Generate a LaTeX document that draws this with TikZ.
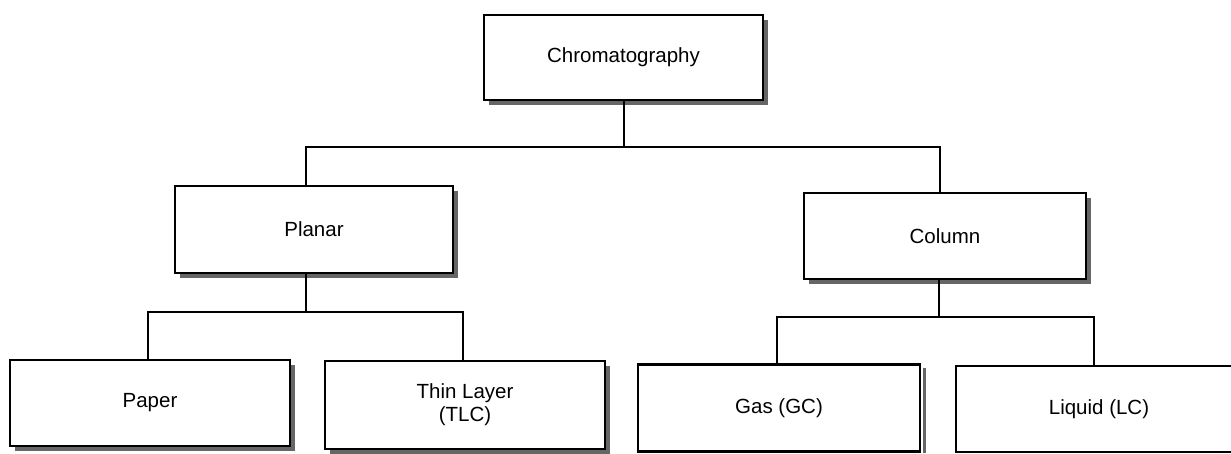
\documentclass[tikz,border=0pt]{standalone}
\usepackage{fontspec}
\setmainfont{Liberation Sans}
\usetikzlibrary{shadows}
\begin{document}
\begin{tikzpicture}[x=1pt,y=-1pt,
  catbox/.style={draw, line width=2.5pt, fill=white, rectangle, inner sep=0pt,
    font=\fontsize{20.5}{23}\selectfont, align=center},
  shadowed/.style={general shadow={fill=black!60, shadow xshift=5pt, shadow yshift=-5pt}},
  link/.style={line width=2pt}]
\useasboundingbox (0,0) rectangle (1231,454);
\clip (0,0) rectangle (1231,454);
\node[catbox, shadowed, minimum width=279pt, minimum height=85pt] (chrom) at (623.5,57.5) {Chromatography};
\node[catbox, shadowed, minimum width=278pt, minimum height=87pt] (planar) at (314,229.5) {Planar};
\node[catbox, shadowed, minimum width=282pt, minimum height=86pt] (column) at (945,236) {Column};
\node[catbox, shadowed, minimum width=280pt, minimum height=86pt] (paper) at (150,403) {Paper};
\node[catbox, shadowed, minimum width=280pt, minimum height=88pt] (tlc) at (465,405) {Thin Layer\\(TLC)};
\node[catbox, minimum width=282pt, minimum height=87pt] (gas) at (779,408) {Gas (GC)};
\node[catbox, minimum width=286pt, minimum height=86pt] (liquid) at (1099,409) {Liquid (LC)};
\fill[black!60] ([xshift=1.25pt,yshift=-5pt]gas.north east) rectangle ([xshift=5pt]gas.south east);
% connectors
\coordinate (tL) at (306,147);
\coordinate (tR) at (940,147);
\coordinate (pS) at (306,312);
\coordinate (pL) at (148,312);
\coordinate (pR) at (463,312);
\coordinate (cS) at (939,317);
\coordinate (cL) at (777,317);
\coordinate (cR) at (1094,317);
\draw[link] (chrom.south) -- (chrom.south |- tL);
\draw[link] (planar.north -| tL) -- (tL) -- (tR) -- (column.north -| tR);
\draw[link] (planar.south -| pS) -- (pS);
\draw[link] (paper.north -| pL) -- (pL) -- (pR) -- (tlc.north -| pR);
\draw[link] (column.south -| cS) -- (cS);
\draw[link] (gas.north -| cL) -- (cL) -- (cR) -- (liquid.north -| cR);
\end{tikzpicture}
\end{document}
